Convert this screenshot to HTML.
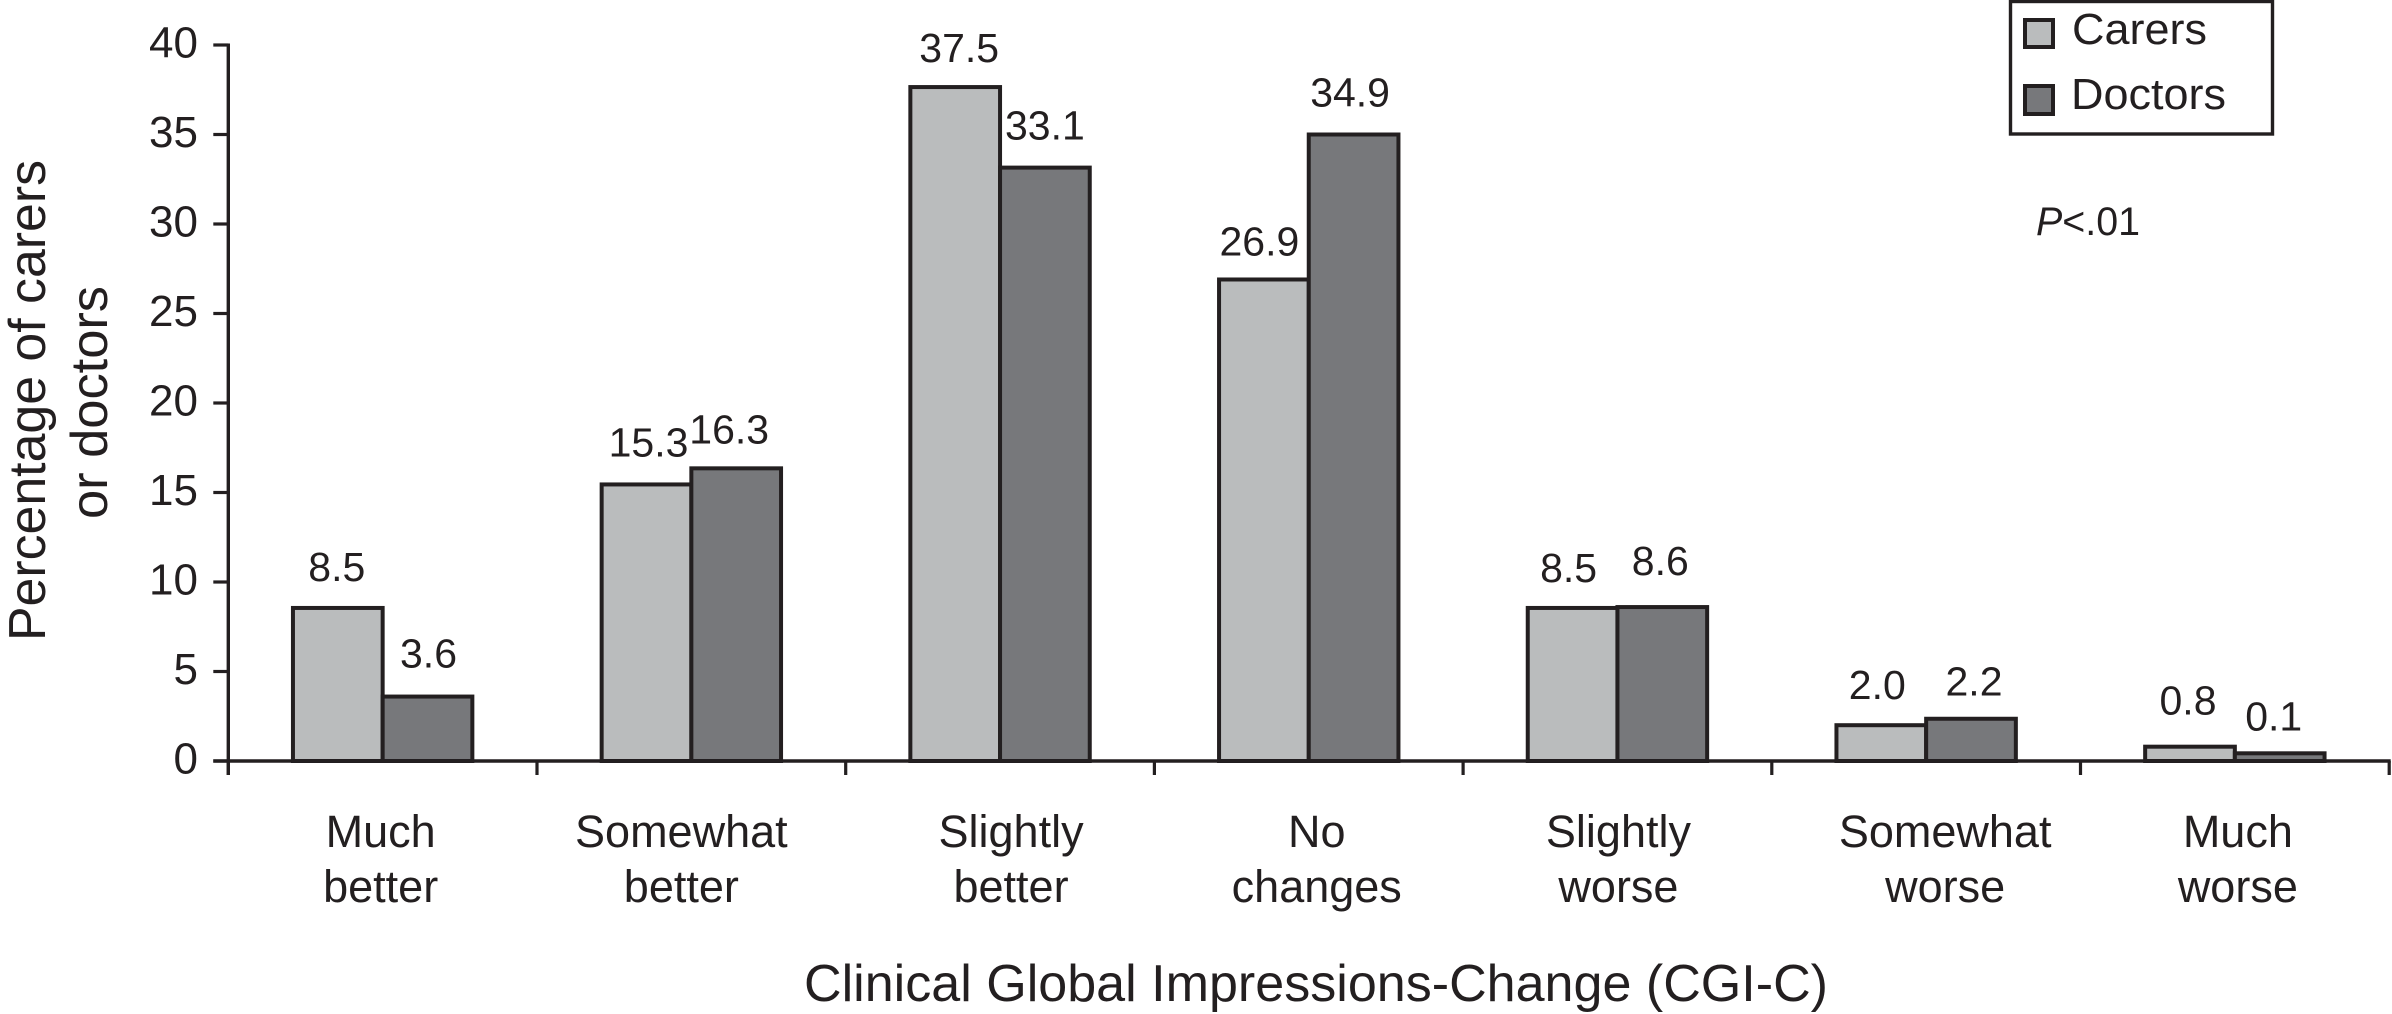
<!DOCTYPE html>
<html lang="en">
<head>
<meta charset="utf-8">
<title>Clinical Global Impressions-Change by carers and doctors</title>
<style>
  html, body { margin: 0; padding: 0; background: #fff; }
  svg { display: block; }
  text { font-family: "Liberation Sans", Arial, sans-serif; fill: #231f20; }
</style>
</head>
<body>
<svg id="chart" xmlns="http://www.w3.org/2000/svg" width="2392" height="1014" viewBox="0 0 2392 1014">
  <rect x="0" y="0" width="2392" height="1014" fill="#ffffff"/>
  <g id="bars"></g>
  <g id="axes"></g>
  <g id="bar-labels"></g>
  <g id="category-labels"></g>

  <text transform="translate(45 641) rotate(-90)" font-size="51.5" textLength="481" lengthAdjust="spacingAndGlyphs">Percentage of carers</text>
  <text transform="translate(107 519) rotate(-90)" font-size="51.5" textLength="233" lengthAdjust="spacingAndGlyphs">or doctors</text>
  <text x="804" y="1001" font-size="51.5" textLength="1024" lengthAdjust="spacingAndGlyphs">Clinical Global Impressions-Change (CGI-C)</text>

  <g>
    <rect x="2010.5" y="1.5" width="262" height="132.5" fill="#ffffff" stroke="#231f20" stroke-width="3.4"/>
    <rect x="2025" y="20" width="28" height="27" fill="#babcbd" stroke="#231f20" stroke-width="4"/>
    <text x="2072" y="44" font-size="43.5" textLength="135" lengthAdjust="spacingAndGlyphs">Carers</text>
    <rect x="2025" y="86" width="28" height="28" fill="#77787b" stroke="#231f20" stroke-width="4"/>
    <text x="2071" y="109" font-size="43.5" textLength="155" lengthAdjust="spacingAndGlyphs">Doctors</text>
  </g>
  <text x="2036" y="235" font-size="39.5" textLength="104" lengthAdjust="spacingAndGlyphs"><tspan font-style="italic">P</tspan>&lt;.01</text>
</svg>

<script>
// ---- Chart data ----
const categoryFirstLines = ["Much", "Somewhat", "Slightly", "No", "Slightly", "Somewhat", "Much"];
const categorySecondLines = ["better", "better", "better", "changes", "worse", "worse", "worse"];
const yTickValues = [0, 5, 10, 15, 20, 25, 30, 35, 40];
// Bar heights
const carersValues = [8.55, 15.45, 37.65, 26.9, 8.55, 2.0, 0.8];
const doctorsValues = [3.6, 16.35, 33.15, 35.0, 8.6, 2.36, 0.43];
// Values as printed above the bars
const carersPrinted = ["8.5", "15.3", "37.5", "26.9", "8.5", "2.0", "0.8"];
const doctorsPrinted = ["3.6", "16.3", "33.1", "34.9", "8.6", "2.2", "0.1"];

// ---- Layout ----
const SVG_NS = "http://www.w3.org/2000/svg";
const INK = "#231f20";
const plot = { x0: 228.3, y0: 761, unitY: 17.9, bandWidth: 308.7, barWidth: 89.7 };
const carersLabelDx = [-1, 2, 4, -4.5, -4, -4, -2];
const carersLabelGap = [27, 28, 25, 24, 26, 26, 32];
const doctorsLabelDx = [1, -7, 0, -3.5, -2, 3, -6];
const doctorsLabelGap = [29, 25, 28, 28, 32, 23.5, 23];
const categoryLabelDx = [-2, -10, 11, 8, 1, 19, 3];

function yScale(v) { return plot.y0 - v * plot.unitY; }
function xBand(i) { return plot.x0 + i * plot.bandWidth; }
function xCenter(i) { return xBand(i) + plot.bandWidth / 2; }

function make(tag, attrs, parent, content) {
  const el = document.createElementNS(SVG_NS, tag);
  Object.keys(attrs).forEach(function (k) { el.setAttribute(k, attrs[k]); });
  if (content !== undefined) el.textContent = content;
  parent.appendChild(el);
  return el;
}

const barsG = document.getElementById("bars");
const axesG = document.getElementById("axes");
const labelsG = document.getElementById("bar-labels");
const catsG = document.getElementById("category-labels");

function drawSeries(seriesName, values, printed, dx, gap, fill, side) {
  values.forEach(function (v, i) {
    const left = xCenter(i) + (side < 0 ? -plot.barWidth : 0);
    const top = yScale(v);
    const bar = make("rect", {
      x: left, y: top, width: plot.barWidth, height: plot.y0 - top,
      fill: fill, stroke: INK, "stroke-width": 4
    }, barsG);
    
    

    const label = make("text", {
      x: left + plot.barWidth / 2 + dx[i], y: top - gap[i],
      "font-size": 41, "text-anchor": "middle"
    }, labelsG, printed[i]);
    
    
  });
}
drawSeries("carers", carersValues, carersPrinted, carersLabelDx, carersLabelGap, "#babcbd", -1);
drawSeries("doctors", doctorsValues, doctorsPrinted, doctorsLabelDx, doctorsLabelGap, "#77787b", 1);

// Axis lines
const plotRight = xBand(categoryFirstLines.length);
const yAxisLine = make("line", { x1: plot.x0, x2: plot.x0, y1: yScale(40) - 1.5, y2: plot.y0 + 14, stroke: INK, "stroke-width": 3.4 }, axesG);


const xAxisLine = make("line", { x1: plot.x0 - 15, x2: plotRight + 1.5, y1: plot.y0, y2: plot.y0, stroke: INK, "stroke-width": 3.4 }, axesG);



// Y ticks
yTickValues.forEach(function (t) {
  const y = yScale(t);
  const tick = make("line", { x1: plot.x0 - 15, x2: plot.x0, y1: y, y2: y, stroke: INK, "stroke-width": 3.2 }, axesG);
  
  
  const label = make("text", { x: 198, y: y + 12.5, "font-size": 44, "text-anchor": "end" }, axesG, String(t));
  
  
});

// X ticks
for (let i = 0; i <= categoryFirstLines.length; i++) {
  const x = xBand(i);
  const tick = make("line", { x1: x, x2: x, y1: plot.y0, y2: plot.y0 + 14, stroke: INK, "stroke-width": 3.2 }, axesG);
  
  
}

// Category labels
categoryFirstLines.forEach(function (line, i) {
  const cx = xCenter(i) + categoryLabelDx[i];
  const first = make("text", { x: cx, y: 847, "font-size": 45, "text-anchor": "middle" }, catsG, line);
  
  
  const second = make("text", { x: cx, y: 902, "font-size": 45, "text-anchor": "middle" }, catsG, categorySecondLines[i]);
  
  
});
</script>
</body>
</html>
